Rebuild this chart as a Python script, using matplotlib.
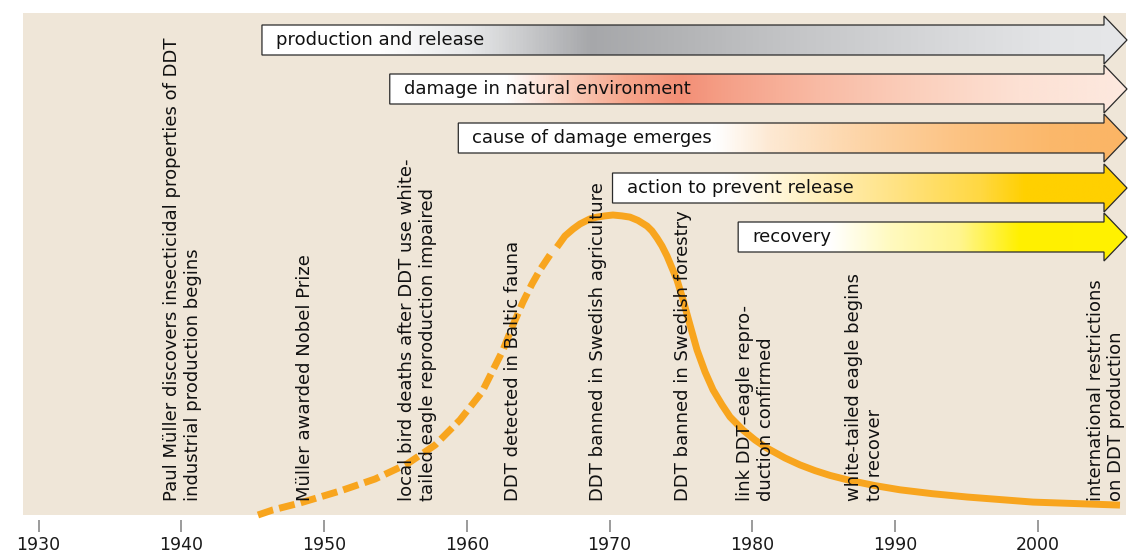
import numpy as np
import matplotlib
matplotlib.use("Agg")
import matplotlib.pyplot as plt
from matplotlib.colors import LinearSegmentedColormap
from matplotlib.patches import Polygon, Rectangle

# ---------------- data ----------------
tick_years = [1930, 1940, 1950, 1960, 1970, 1980, 1990, 2000]

# relative DDT load in the environment (peak = 100)
curve_years = [1945.37, 1946.42, 1948.31, 1951.12, 1953.57, 1955.81, 1957.77, 1959.52,
               1961.06, 1962.53, 1963.23, 1963.93, 1964.56, 1965.12, 1965.96, 1966.31,
               1966.87, 1967.43, 1967.92, 1968.62, 1969.11, 1969.67, 1970.23, 1970.86,
               1971.42, 1971.98, 1972.62, 1972.96, 1973.32, 1973.66, 1974.02, 1974.72,
               1975.14, 1975.63, 1976.12, 1976.68, 1977.24, 1977.87, 1978.43, 1979.34,
               1980.18, 1981.02, 1982.28, 1983.33, 1984.38, 1985.43, 1986.83, 1988.58,
               1990.33, 1992.60, 1995.02, 1999.65, 2005.74]
curve_levels = [0.0, 1.7, 4.0, 8.0, 12.0, 17.0, 23.3, 31.7,
                41.0, 55.0, 63.3, 71.0, 77.0, 81.7, 87.7, 89.3,
                93.0, 95.3, 97.0, 98.7, 99.3, 99.7, 100.0, 99.7,
                99.3, 98.2, 96.3, 94.7, 92.3, 89.7, 86.3, 78.3,
                71.7, 63.3, 55.0, 47.7, 41.7, 36.7, 32.7, 28.3,
                25.0, 22.3, 19.0, 16.7, 14.8, 13.2, 11.5, 9.8,
                8.4, 7.1, 6.0, 4.3, 3.3]
dashed_end_year = 1965.96
solid_start_year = 1966.31

event_years = [1940.07, 1948.66, 1956.54, 1963.25, 1969.15, 1975.16, 1980.23, 1987.83, 2004.76]
event_labels = [
    "Paul Müller discovers insecticidal properties of DDT\nindustrial production begins",
    "Müller awarded Nobel Prize",
    "local bird deaths after DDT use white-\ntailed eagle reproduction impaired",
    "DDT detected in Baltic fauna",
    "DDT banned in Swedish agriculture",
    "DDT banned in Swedish forestry",
    "link DDT–eagle repro-\nduction confirmed",
    "white-tailed eagle begins\nto recover",
    "international restrictions\non DDT production",
]

phase_labels = ["production and release", "damage in natural environment",
                "cause of damage emerges", "action to prevent release", "recovery"]
phase_start_years = [1945.65, 1954.6, 1959.4, 1970.2, 1979.0]

# ---------------- layout / style ----------------
W, H = 1128, 552
PX_PER_YEAR = 14.279
X1930 = 38.5


def px2yr(px):
    return 1930 + (px - X1930) / PX_PER_YEAR


def yr2px(yr):
    return X1930 + (yr - 1930) * PX_PER_YEAR


fig = plt.figure(figsize=(W / 100, H / 100), dpi=100)
fig.patch.set_facecolor("white")
ax_left, ax_right, ax_top, ax_bot = 23, 1128, 13, 520
ax = fig.add_axes([ax_left / W, (H - ax_bot) / H, (ax_right - ax_left) / W, (ax_bot - ax_top) / H])
ax.set_facecolor("none")
for s in ax.spines.values():
    s.set_visible(False)

beige = "#efe6d8"
ax.add_patch(Rectangle((px2yr(23), 13), px2yr(1126) - px2yr(23), 515 - 13,
                       facecolor=beige, edgecolor="none", zorder=0))

FS = 13.0
FS_TICK = 12.5

# gradient stops per arrow (pixel x, colour)
grad_stops = [
    [(0, "#ffffff"), (380, "#ffffff"), (470, "#e6e7e8"), (530, "#c6c7c9"), (590, "#a6a7aa"),
     (660, "#b0b1b3"), (800, "#c5c6c8"), (950, "#d8d9db"), (1050, "#e3e4e6"), (1200, "#e6e7e9")],
    [(0, "#ffffff"), (505, "#ffffff"), (560, "#fbd3c2"), (625, "#f6a58b"), (680, "#f38f76"),
     (730, "#f5a189"), (820, "#f9bba5"), (920, "#fbd0bd"), (1020, "#fde1d4"), (1200, "#fde9df")],
    [(0, "#ffffff"), (715, "#ffffff"), (770, "#fde9d3"), (860, "#fdd5a8"), (960, "#fcc383"),
     (1050, "#fbb86b"), (1200, "#fbb565")],
    [(0, "#ffffff"), (725, "#ffffff"), (800, "#fff2c8"), (900, "#ffe280"), (980, "#ffd842"),
     (1025, "#ffd000"), (1200, "#ffd000")],
    [(0, "#ffffff"), (830, "#ffffff"), (890, "#fffac0"), (960, "#fff58f"), (1020, "#fff000"),
     (1200, "#fff200")],
]
row_centers = [40, 89, 138, 188, 237]
body_h, head_h = 15, 24
tip_px, base_px = 1127, 1104

for label, start, yc, stops in zip(phase_labels, phase_start_years, row_centers, grad_stops):
    x0 = start
    xb = px2yr(base_px)
    xt = px2yr(tip_px)
    verts = [(x0, yc - body_h), (xb, yc - body_h), (xb, yc - head_h), (xt, yc),
             (xb, yc + head_h), (xb, yc + body_h), (x0, yc + body_h)]
    poly = Polygon(verts, closed=True, facecolor="none", edgecolor="#2a2a2a",
                   linewidth=0.9, zorder=3, joinstyle="miter")
    ax.add_patch(poly)
    x0px = yr2px(x0)
    pos, cols = [], []
    for px, c in stops:
        f = (px - x0px) / (tip_px - x0px)
        f = min(max(f, 0.0), 1.0)
        if pos and f <= pos[-1]:
            continue
        pos.append(f)
        cols.append(c)
    if pos[0] != 0.0:
        pos.insert(0, 0.0); cols.insert(0, cols[0])
    if pos[-1] != 1.0:
        pos.append(1.0); cols.append(cols[-1])
    cmap = LinearSegmentedColormap.from_list("g", list(zip(pos, cols)))
    grad = np.linspace(0, 1, 800)[None, :]
    im = ax.imshow(grad, cmap=cmap, extent=(x0, xt, yc + head_h, yc - head_h),
                   aspect="auto", interpolation="bilinear", zorder=2)
    im.set_clip_path(poly)
    ax.text(x0 + 14 / PX_PER_YEAR, yc + 0.5, label, ha="left", va="center",
            fontsize=FS, color="#111111", zorder=4)

ax.set_xlim(px2yr(ax_left), px2yr(ax_right))
ax.set_ylim(ax_bot, ax_top)
ax.set_yticks([])
ax.set_xticks(tick_years)
ax.set_xticklabels([str(t) for t in tick_years], fontsize=FS_TICK, color="#1a1a1a")
ax.tick_params(axis="x", length=12 * 0.72, width=1.1, color="#808080", pad=3, direction="out")

# curve on its own level axis
axc = ax.twinx()
axc.set_facecolor("none")
for s in axc.spines.values():
    s.set_visible(False)
axc.set_yticks([])
axc.set_ylim((515 - ax_bot) / 3.0, (515 - ax_top) / 3.0)
axc.set_xlim(ax.get_xlim())

cy = np.array(curve_years)
cl = np.array(curve_levels)
orange = "#f8a51e"
m_d = cy <= dashed_end_year
m_s = cy >= solid_start_year
axc.plot(cy[m_d], cl[m_d], color=orange, lw=5.0, dashes=(2.3, 0.9),
         dash_capstyle="butt", dash_joinstyle="round", zorder=2)
axc.plot(cy[m_s], cl[m_s], color=orange, lw=5.0,
         solid_capstyle="butt", solid_joinstyle="round", zorder=2)

for yr, lab in zip(event_years, event_labels):
    axc.text(yr, 501, lab, transform=ax.transData, rotation=90, ha="center", va="bottom",
             multialignment="left", fontsize=FS, color="#111111", zorder=5)

fig.savefig("out.png", dpi=100)
